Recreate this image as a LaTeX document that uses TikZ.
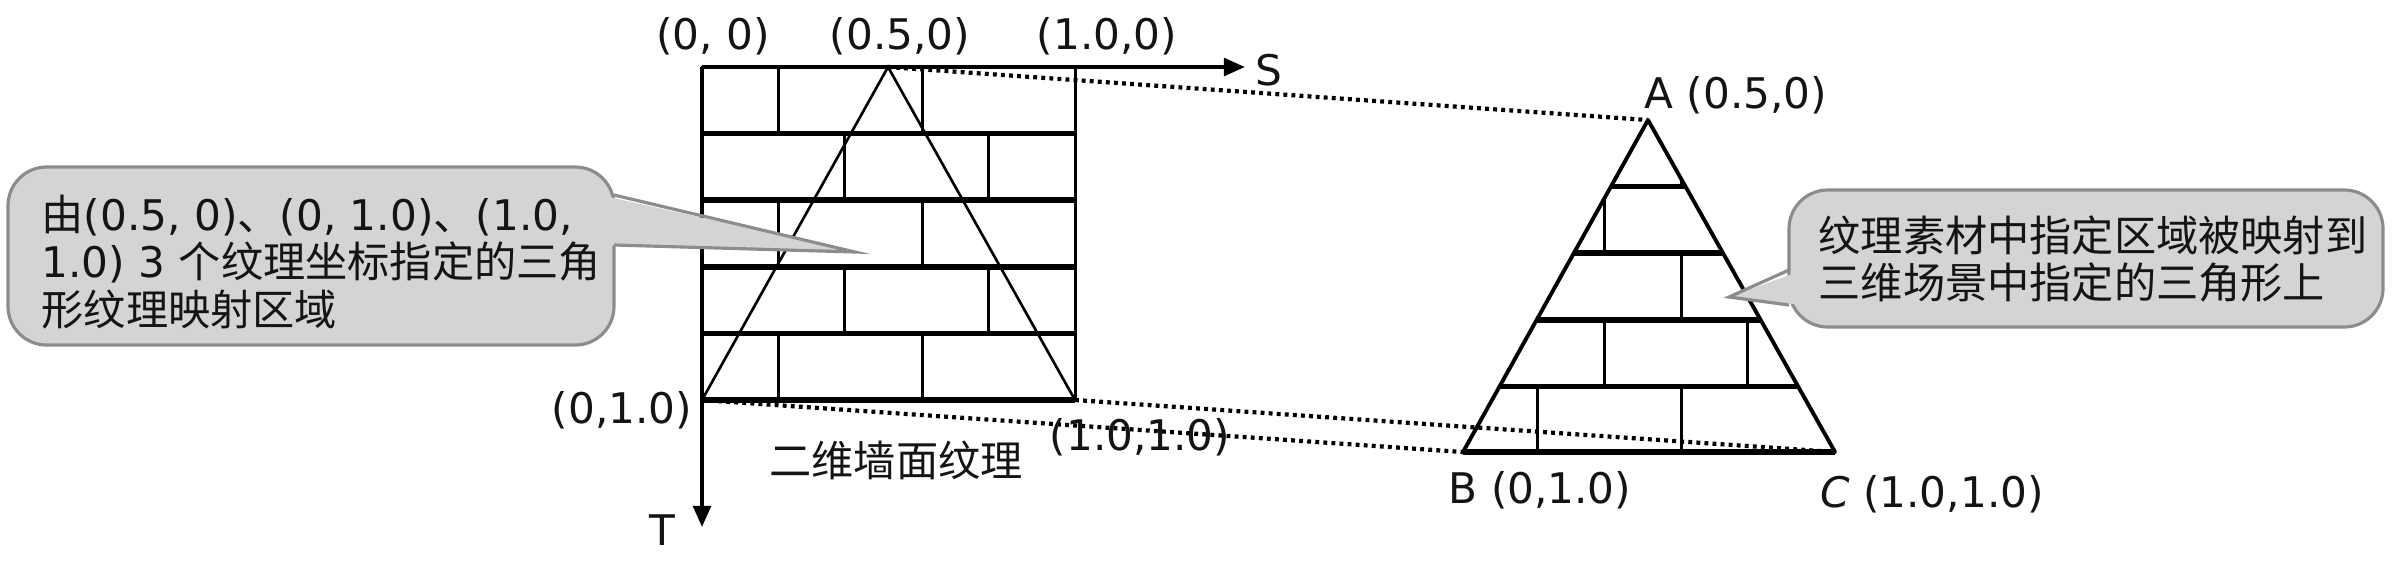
\documentclass[tikz,border=0pt]{standalone}
\usepackage{fontspec}
\setmainfont{DejaVu Sans}
\newfontfamily\cjk{Noto Sans CJK SC}
\usepackage{tikz}
\usetikzlibrary{arrows.meta}
\definecolor{bubblegray}{RGB}{212, 212, 212}
\definecolor{bubbleline}{RGB}{140, 140, 140}
\definecolor{inkgray}{RGB}{20, 20, 20}

\newcommand{\brickwall}{%
    \foreach \row in {0.2,0.4,0.6,0.8,1} \draw[mortar] (0,\row) -- (1,\row);
    \foreach \row in {0,0.4,0.8} \draw[joint] (0.204,\row) -- ++(0,0.2) (0.59,\row) -- ++(0,0.2);
    \foreach \row in {0.2,0.6} \draw[joint] (0.383,\row) -- ++(0,0.2) (0.767,\row) -- ++(0,0.2);
}

\begin{document}
\begin{tikzpicture}[x=0.01cm, y=-0.01cm, font=\fontsize{12}{13.4}\selectfont, text=inkgray,
    mortar/.style={line width=1.6pt},
    joint/.style={line width=0.85pt},
    link/.style={line width=1.2pt, dash pattern=on 1.1pt off 1.2pt},
    axis/.style={line width=1.1pt, -{Triangle[length=6pt,width=5pt]}},
    bubble/.style={fill=bubblegray, draw=bubbleline, line width=0.9pt}]
    \useasboundingbox (0,0) rectangle (2398,560);
    \coordinate (o) at (702,67);
    \coordinate (sEnd) at (1245,67);
    \coordinate (tEnd) at (702,527);
    \coordinate (tA) at (888,67);
    \coordinate (tB) at (702,400);
    \coordinate (tC) at (1075,400);
    \coordinate (A) at (1648,120);
    \coordinate (B) at (1463,452);
    \coordinate (C) at (1835,452);
    \coordinate (tipL) at (855,252);
    \coordinate (tipR) at (1729,297);

    \begin{scope}[shift={(o)}, xscale=373, yscale=333]
        \brickwall
    \end{scope}
    \draw[joint] (o) rectangle (tC);
    \draw[line width=0.75pt] (tA) -- (tB) -- (tC) -- cycle;
    \draw[axis] (o) -- (sEnd);
    \draw[axis] (o) -- (tEnd);

    \begin{scope}
        \clip (A) -- (B) -- (C) -- cycle;
        \begin{scope}[shift={(1461.5,120)}, xscale=373, yscale=333]
            \brickwall
        \end{scope}
    \end{scope}
    \draw[line width=1.1pt, line join=round] (A) -- (B) -- (C) -- cycle;
    \draw[mortar] (B) -- (C);

    \draw[link] (tA) -- (A);
    \draw[link] (tB) -- (B);
    \draw[link] (tC) -- (C);

    \path[bubble, rounded corners=11pt] (8,167) rectangle (614,345);
    \fill[bubblegray] (600,195) -- (tipL) -- (600,245) -- cycle;
    \draw[bubbleline, line width=0.9pt] (614,195) -- (tipL) -- (614,245);
    \path[bubble, rounded corners=11pt] (1789,190) rectangle (2383,327);
    \fill[bubblegray] (1803,270) -- (tipR) -- (1803,305) -- cycle;
    \draw[bubbleline, line width=0.9pt] (1789,270) -- (tipR) -- (1789,305);

    \node[anchor=west, align=left, inner sep=0] (noteL) at (41,262)
        {{\cjk 由}(0.5, 0){\cjk 、}(0, 1.0){\cjk 、}(1.0,\\1.0) 3 {\cjk 个纹理坐标指定的三角}\\{\cjk 形纹理映射区域}};
    \node[anchor=west, align=left, inner sep=0, font=\fontsize{12}{13.4}\selectfont\cjk] (noteR) at (1818,259)
        {纹理素材中指定区域被映射到\\三维场景中指定的三角形上};

    \node (lO) at (713,36) {(0, 0)};
    \node (lA0) at (900,36) {(0.5,0)};
    \node (lC0) at (1107,36) {(1.0,0)};
    \node (lS) at (1269,70) {S};
    \node (lT) at (662,530) {T};
    \node (lB0) at (622,410) {(0,1.0)};
    \node (lC1) at (1140,437) {(1.0,1.0)};
    \node (lWall) at (896,460) {\cjk 二维墙面纹理};
    \node (lA) at (1736,95) {A (0.5,0)};
    \node (lB) at (1540,490) {B (0,1.0)};
    \node (lC) at (1932,494) {{\itshape C} (1.0,1.0)};
\end{tikzpicture}
\end{document}
